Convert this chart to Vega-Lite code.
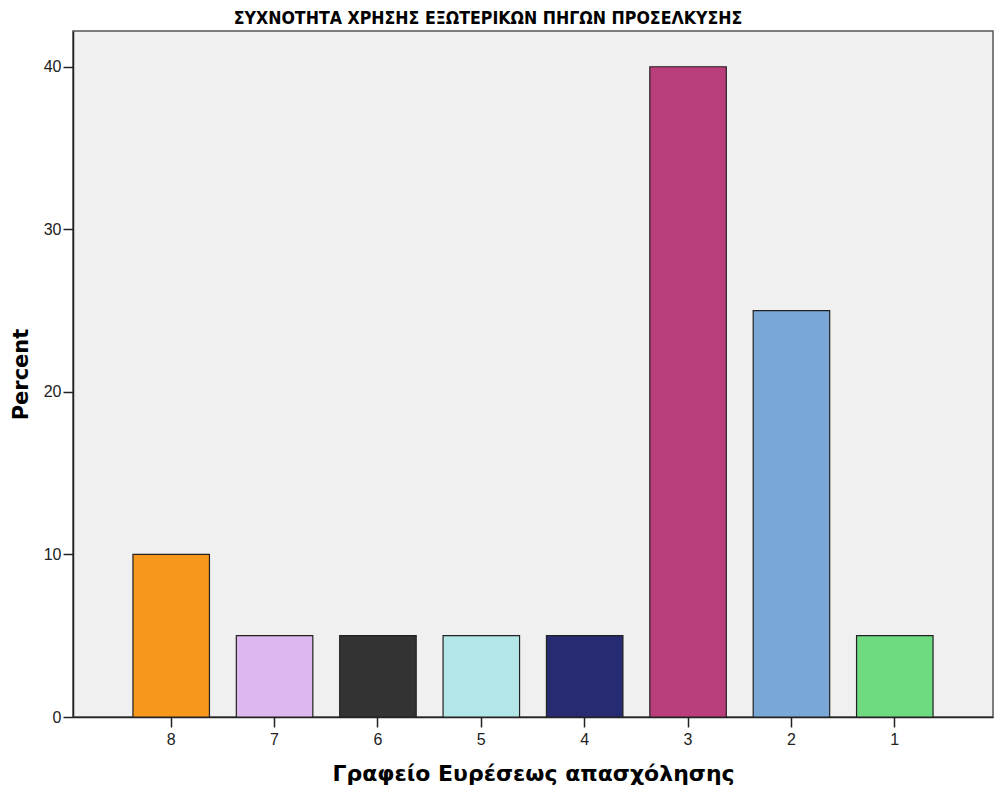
{
  "$schema": "https://vega.github.io/schema/vega-lite/v6.json",
  "autosize": {"type": "none"},
  "padding": {"left": 73, "top": 31, "right": 3, "bottom": 82},
  "width": 920,
  "height": 686,
  "background": "white",
  "title": {
    "text": "ΣΥΧΝΟΤΗΤΑ ΧΡΗΣΗΣ ΕΞΩΤΕΡΙΚΩΝ ΠΗΓΩΝ ΠΡΟΣΕΛΚΥΣΗΣ",
    "font": "DejaVu Sans Condensed, Liberation Sans",
    "fontSize": 17.6,
    "fontWeight": "bold",
    "color": "#000000",
    "anchor": "middle",
    "dx": -45,
    "offset": 3
  },
  "config": {
    "view": {"fill": "#F0F0F0", "stroke": "#555555", "strokeWidth": 1.5},
    "axis": {
      "labelFont": "Liberation Sans",
      "titleFont": "DejaVu Sans",
      "labelColor": "#222222",
      "titleColor": "#000000",
      "domainColor": "#222222",
      "tickColor": "#222222",
      "domainWidth": 1.5,
      "tickWidth": 1.5,
      "grid": false
    }
  },
  "data": {
    "values": [
      {"office": "8", "percent": 10},
      {"office": "7", "percent": 5},
      {"office": "6", "percent": 5},
      {"office": "5", "percent": 5},
      {"office": "4", "percent": 5},
      {"office": "3", "percent": 40},
      {"office": "2", "percent": 25},
      {"office": "1", "percent": 5}
    ]
  },
  "mark": {"type": "bar", "stroke": "#222222", "strokeWidth": 1.2},
  "encoding": {
    "x": {
      "field": "office",
      "type": "nominal",
      "sort": ["8", "7", "6", "5", "4", "3", "2", "1"],
      "scale": {"paddingInner": 0.26, "paddingOuter": 0.58},
      "axis": {
        "title": "Γραφείο Ευρέσεως απασχόλησης",
        "titleFontSize": 22,
        "titleFontWeight": "bold",
        "titlePadding": 16,
        "labelAngle": 0,
        "labelFontSize": 16,
        "labelPadding": 4,
        "tickSize": 10
      }
    },
    "y": {
      "field": "percent",
      "type": "quantitative",
      "scale": {"domain": [0, 42.2], "nice": false},
      "axis": {
        "title": "Percent",
        "titleFontSize": 21,
        "titleFontWeight": "bold",
        "titlePadding": 12,
        "values": [0, 10, 20, 30, 40],
        "labelFontSize": 16,
        "labelPadding": 2,
        "tickSize": 10
      }
    },
    "fill": {
      "field": "office",
      "type": "nominal",
      "scale": {
        "domain": ["8", "7", "6", "5", "4", "3", "2", "1"],
        "range": ["#F7981D", "#DDB8F0", "#333333", "#B3E6E6", "#272B72", "#BA3E7B", "#79A8D6", "#6EDB81"]
      },
      "legend": null
    }
  }
}
